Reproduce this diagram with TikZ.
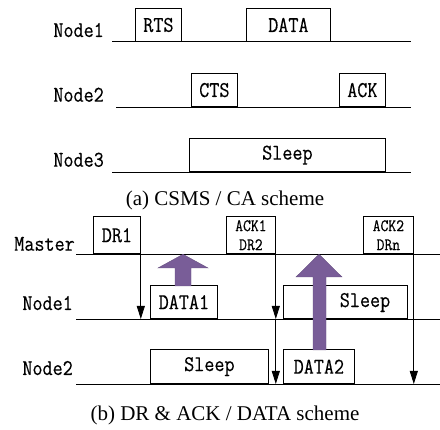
\documentclass[tikz,border=0pt]{standalone}
\usepackage{fontspec}
\setmainfont{Liberation Serif}
\newfontfamily\tlfam{Latin Modern Mono}[FakeBold=0.4,FakeStretch=0.87]
\usetikzlibrary{arrows.meta}

\definecolor{upcol}{RGB}{121,93,152}
\newcommand{\tlfont}{\fontsize{22.5}{22.5}\selectfont\tlfam}
\newcommand{\tlsmall}{\fontsize{17.5}{19}\selectfont\tlfam}
\newcommand{\capfont}{\fontsize{21}{24}\selectfont}

\begin{document}
\begin{tikzpicture}[x=1pt,y=-1pt,
    slot/.style={draw,line width=0.8pt,inner sep=0pt,anchor=south west,font=\tlfont},
    tline/.style={line width=0.9pt},
    lbl/.style={font=\tlfont,anchor=base east,inner sep=0pt},
    sig/.style={line width=0.8pt,-{Triangle[length=13pt,width=8pt]}},
    bigup/.style={fill=upcol,draw=upcol!85!black,line width=0.4pt}]
    \useasboundingbox (0,0) rectangle (440,430);

    \coordinate (A1) at (112,41.7);
    \coordinate (A2) at (116,107);
    \coordinate (A3) at (112,172);
    \coordinate (M) at (76,254.3);
    \coordinate (B1) at (76,319);
    \coordinate (B2) at (76,384);

    % (a) CSMS / CA
    \draw[tline] (A1) -- +(299,0);
    \draw[tline] (A2) -- +(295,0);
    \draw[tline] (A3) -- +(299,0);
    \node[lbl] (na1) at (104,37) {Node1};
    \node[lbl] (na2) at (104,101.7) {Node2};
    \node[lbl] (na3) at (104,166.7) {Node3};

    \node[slot,minimum width=46,minimum height=32.7] (rts) at (135,41.7) {RTS};
    \node[slot,minimum width=84,minimum height=32.7] (data) at (246,41.7) {DATA};
    \node[slot,minimum width=46,minimum height=33] (cts) at (191,107) {CTS};
    \node[slot,minimum width=46,minimum height=33] (ack) at (339,107) {ACK};
    \node[slot,minimum width=196,minimum height=33] (sleepa) at (189,172) {Sleep};

    \node[font=\capfont] (capa) at (225,200) {(a) CSMS / CA scheme};

    % (b) DR & ACK / DATA
    \draw[tline] (M) -- (440,254.3);
    \draw[tline] (B1) -- (440,319);
    \draw[tline] (B2) -- (440,384);
    \node[lbl] (master) at (75,250.7) {Master};
    \node[lbl] (nb1) at (73,310) {Node1};
    \node[lbl] (nb2) at (73,375) {Node2};

    \node[slot,minimum width=47,minimum height=37.3] (dr1) at (93,254.3) {DR1};
    \node[slot,minimum width=49,minimum height=37.3,font=\tlsmall,align=center] (ack1) at (226,254.3) {ACK1\\DR2};
    \node[slot,minimum width=50,minimum height=37.3,font=\tlsmall,align=center] (ack2) at (363,254.3) {ACK2\\DRn};
    \node[slot,minimum width=67,minimum height=33] (data1) at (150,319) {DATA1};
    \node[slot,minimum width=124,minimum height=33] (sleepb1) at (283,319) {};
    \node[font=\tlfont] (zz1) at (365,302.5) {Sleep};
    \node[slot,minimum width=118,minimum height=34] (sleepb2) at (150,384) {Sleep};
    \node[slot,minimum width=71,minimum height=34] (data2) at (283,384) {DATA2};

    \draw[sig] (dr1.south east) -- (dr1.south east |- B1);
    \draw[sig] (ack1.south east) -- (ack1.south east |- B1);
    \draw[sig] (ack1.south east |- B1) -- (ack1.south east |- B2);
    \draw[sig] (ack2.south east) -- (ack2.south east |- B2);

    \filldraw[bigup] (175,286) -- (175,268) -- (158,268) -- (183,254.3)
        -- (208,268) -- (191,268) -- (191,286) -- cycle;
    \filldraw[bigup] (313,350) -- (313,277) -- (296,277) -- (319,254.3)
        -- (342,277) -- (326,277) -- (326,350) -- cycle;

    \node[font=\capfont] (capb) at (225,415) {(b) DR \& ACK / DATA scheme};
\end{tikzpicture}
\end{document}
